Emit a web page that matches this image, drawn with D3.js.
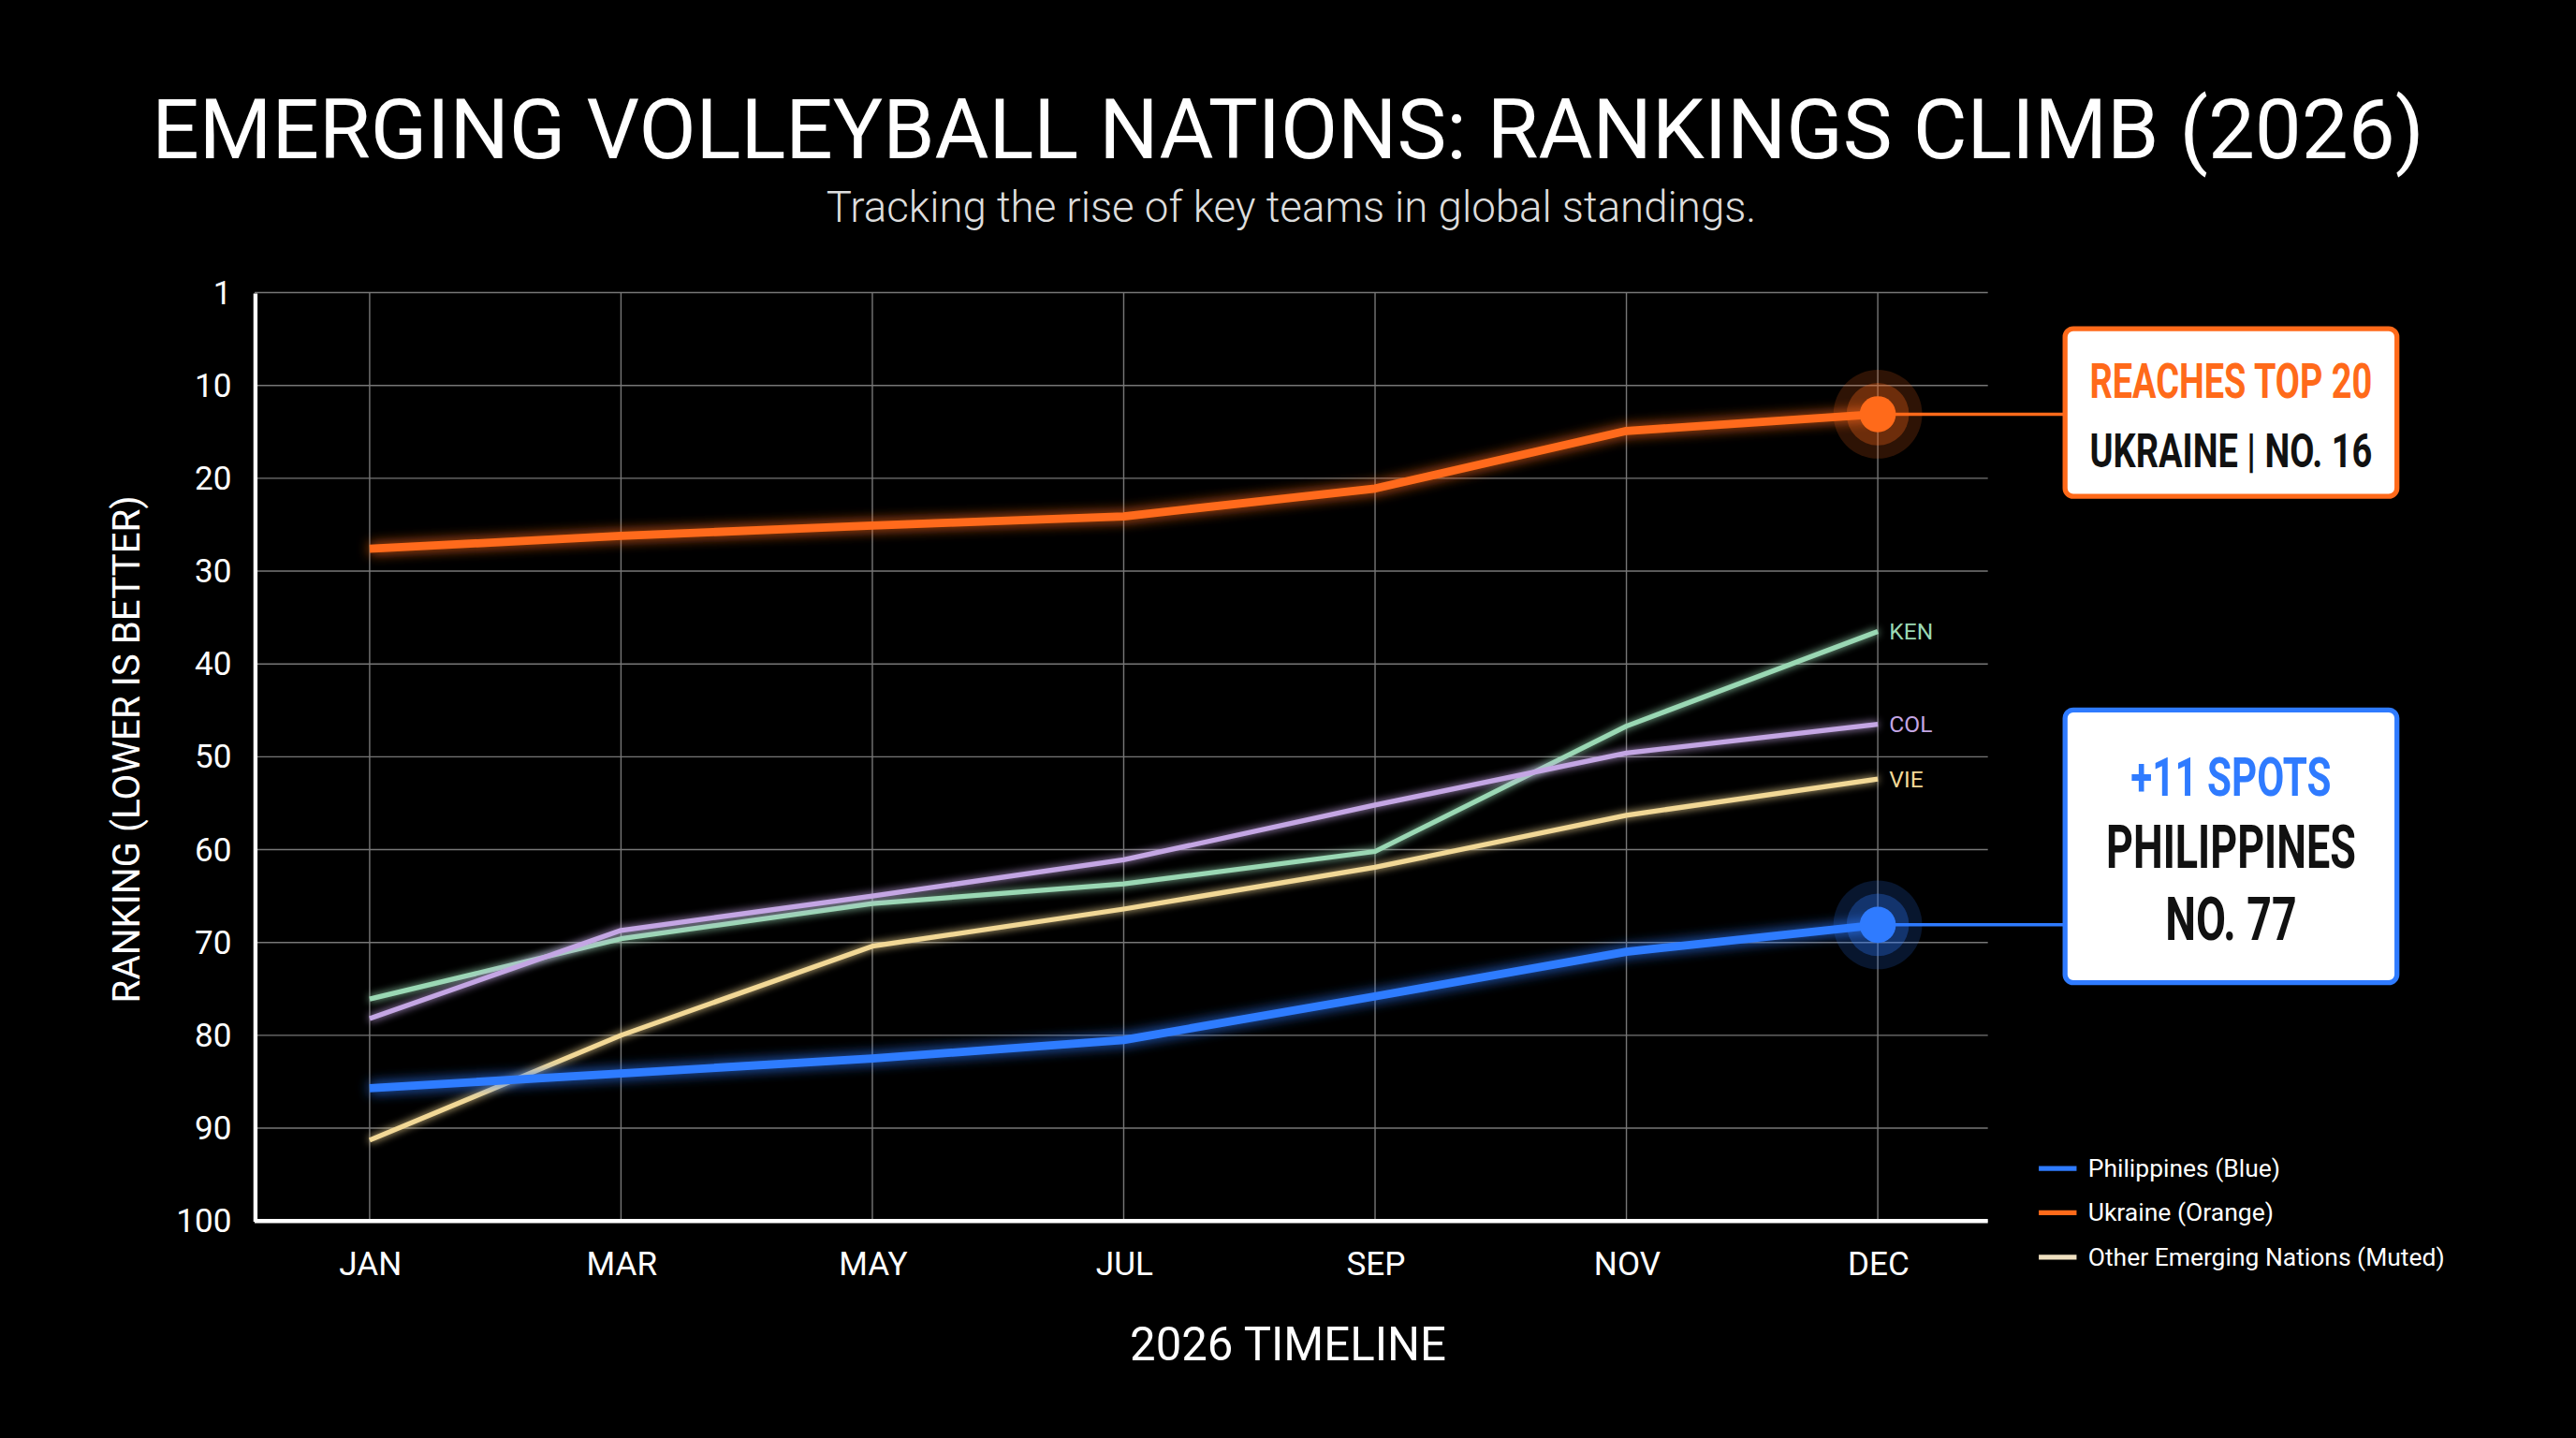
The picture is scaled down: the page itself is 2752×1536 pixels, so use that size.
<!DOCTYPE html>
<html><head><meta charset="utf-8">
<script src="https://cdn.jsdelivr.net/npm/d3@7"></script>
<style>html,body{margin:0;background:#000;overflow:hidden}</style>
</head><body>
<svg id="c" width="2752" height="1536" viewBox="0 0 1568 875"></svg>
<script>
const months = ["JAN","MAR","MAY","JUL","SEP","NOV","DEC"];
const yTicks = [0,10,20,30,40,50,60,70,80,90,100];
const yTickLabels = ["1","10","20","30","40","50","60","70","80","90","100"];
const philippines = [85.7,84.1,82.5,80.5,75.8,71,68.1];
const ukraine = [27.6,26.2,25.1,24.1,21.1,14.9,13.1];
const ken = [76.1,69.6,65.8,63.7,60.2,46.7,36.5];
const col = [78.2,68.7,65,61.1,55.2,49.6,46.5];
const vie = [91.3,80,70.4,66.4,61.9,56.3,52.4];

const svg = d3.select("#c");
svg.append("rect").attr("width",1568).attr("height",875).attr("fill","#000");
const defs = svg.append("defs");
const glow = defs.append("filter").attr("id","glow").attr("x","-20%").attr("y","-50%").attr("width","140%").attr("height","200%");
glow.append("feGaussianBlur").attr("stdDeviation",4).attr("result","b");
const m = glow.append("feMerge"); m.append("feMergeNode").attr("in","b"); m.append("feMergeNode").attr("in","SourceGraphic");
const soft = defs.append("filter").attr("id","soft").attr("x","-20%").attr("y","-50%").attr("width","140%").attr("height","200%");
soft.append("feGaussianBlur").attr("stdDeviation",2.5).attr("result","b");
const m2 = soft.append("feMerge"); m2.append("feMergeNode").attr("in","b"); m2.append("feMergeNode").attr("in","SourceGraphic");

const L=155,R=1210,T=178,B=743;
const x = d3.scalePoint().domain(months).range([225,1143]);
const y = d3.scaleLinear().domain([0,100]).range([T,B]);

svg.append("text").attr("x",784).attr("y",96).attr("text-anchor","middle").attr("fill","#fff")
 .attr("font-family","Roboto").attr("font-size",51).attr("textLength",1383).attr("lengthAdjust","spacingAndGlyphs").text("EMERGING VOLLEYBALL NATIONS: RANKINGS CLIMB (2026)");
svg.append("text").attr("x",786).attr("y",135).attr("text-anchor","middle").attr("fill","#ddd")
 .attr("font-family","Roboto").attr("font-size",26).attr("font-weight",300).text("Tracking the rise of key teams in global standings.");

const g = svg.append("g");
g.selectAll(".hg").data(yTicks).join("line").attr("x1",L).attr("x2",R).attr("y1",d=>y(d)).attr("y2",d=>y(d)).attr("stroke","#777").attr("stroke-width",0.8);
g.selectAll(".vg").data(months).join("line").attr("x1",d=>x(d)).attr("x2",d=>x(d)).attr("y1",T).attr("y2",B).attr("stroke","#777").attr("stroke-width",0.8);

const ya = svg.append("g").attr("transform",`translate(${L},0)`).call(d3.axisLeft(y).tickValues(yTicks).tickFormat((d,i)=>yTickLabels[i]).tickSize(0).tickPadding(14));
ya.select(".domain").attr("stroke","#fff").attr("stroke-width",2.5);
ya.selectAll("text").attr("fill","#fff").attr("font-family","Roboto").attr("font-size",20);
const xa = svg.append("g").attr("transform",`translate(0,${B})`).call(d3.axisBottom(x).tickSize(0).tickPadding(19));
xa.select(".domain").attr("d",`M${L},0H${R}`).attr("stroke","#fff").attr("stroke-width",2.5);
xa.selectAll("text").attr("fill","#fff").attr("font-family","Roboto").attr("font-size",20);

svg.append("text").attr("transform","translate(85,456) rotate(-90)").attr("text-anchor","middle").attr("fill","#fff")
 .attr("font-family","Roboto").attr("font-size",23).text("RANKING (LOWER IS BETTER)");
svg.append("text").attr("x",784).attr("y",828).attr("text-anchor","middle").attr("fill","#fff")
 .attr("font-family","Roboto").attr("font-size",28).text("2026 TIMELINE");

const line = d3.line().x((d,i)=>x(months[i])).y(d=>y(d));
const others = [{n:"KEN",v:ken,c:"#9ad8b4"},{n:"COL",v:col,c:"#c4a6e4"},{n:"VIE",v:vie,c:"#f2d896"}];
others.forEach(o=>{
  svg.append("path").attr("d",line(o.v)).attr("fill","none").attr("stroke",o.c).attr("stroke-width",3).attr("stroke-linejoin","round").attr("filter","url(#soft)");
  svg.append("text").attr("x",x("DEC")+7).attr("y",y(o.v[6])+5).attr("fill",o.c).attr("font-family","Roboto").attr("font-size",14).text(o.n);
});
const main = [{v:ukraine,c:"#ff6a1a"},{v:philippines,c:"#2f7bff"}];
main.forEach(o=>{
  svg.append("path").attr("d",line(o.v)).attr("fill","none").attr("stroke",o.c).attr("stroke-width",5).attr("stroke-linejoin","round").attr("filter","url(#glow)");
});

const cond = "Roboto, sans-serif";
function callout(vals,color,bx,by,bw,bh){
  const cx=x("DEC"), cy=y(vals[6]);
  svg.append("line").attr("x1",cx).attr("x2",bx).attr("y1",cy).attr("y2",cy).attr("stroke",color).attr("stroke-width",2);
  svg.append("circle").attr("cx",cx).attr("cy",cy).attr("r",27).attr("fill",color).attr("opacity",0.18);
  svg.append("circle").attr("cx",cx).attr("cy",cy).attr("r",19).attr("fill",color).attr("opacity",0.3);
  svg.append("circle").attr("cx",cx).attr("cy",cy).attr("r",11).attr("fill",color);
  svg.append("rect").attr("x",bx).attr("y",by).attr("width",bw).attr("height",bh).attr("rx",5).attr("fill","#fff").attr("stroke",color).attr("stroke-width",3);
}
callout(ukraine,"#ff6a1a",1257,200,202,102);
callout(philippines,"#2f7bff",1257,432,202,166);
const tx=1358;
function ct(yy,col,size,w,t){
  svg.append("text").attr("x",tx).attr("y",yy).attr("text-anchor","middle").attr("fill",col).attr("font-family",cond).attr("font-weight","bold")
   .attr("font-size",size).attr("textLength",w).attr("lengthAdjust","spacingAndGlyphs").text(t);
}
ct(242,"#ff6a1a",30,172,"REACHES TOP 20");
ct(284,"#111",28,172,"UKRAINE | NO. 16");
ct(484,"#2f7bff",33,122,"+11 SPOTS");
ct(528,"#111",37,152,"PHILIPPINES");
ct(572,"#111",37,80,"NO. 77");

const legend = [{t:"Philippines (Blue)",c:"#2f7bff",w:117},{t:"Ukraine (Orange)",c:"#ff6a1a",w:113},{t:"Other Emerging Nations (Muted)",c:"#efe0c0",w:217}];
legend.forEach((d,i)=>{
  const ly=711+i*27;
  svg.append("line").attr("x1",1241).attr("x2",1264).attr("y1",ly).attr("y2",ly).attr("stroke",d.c).attr("stroke-width",3);
  svg.append("text").attr("x",1271).attr("y",ly+5).attr("fill","#fff").attr("font-family","Roboto").attr("font-size",15)
   .attr("textLength",d.w).attr("lengthAdjust","spacingAndGlyphs").text(d.t);
});
</script>
</body></html>
